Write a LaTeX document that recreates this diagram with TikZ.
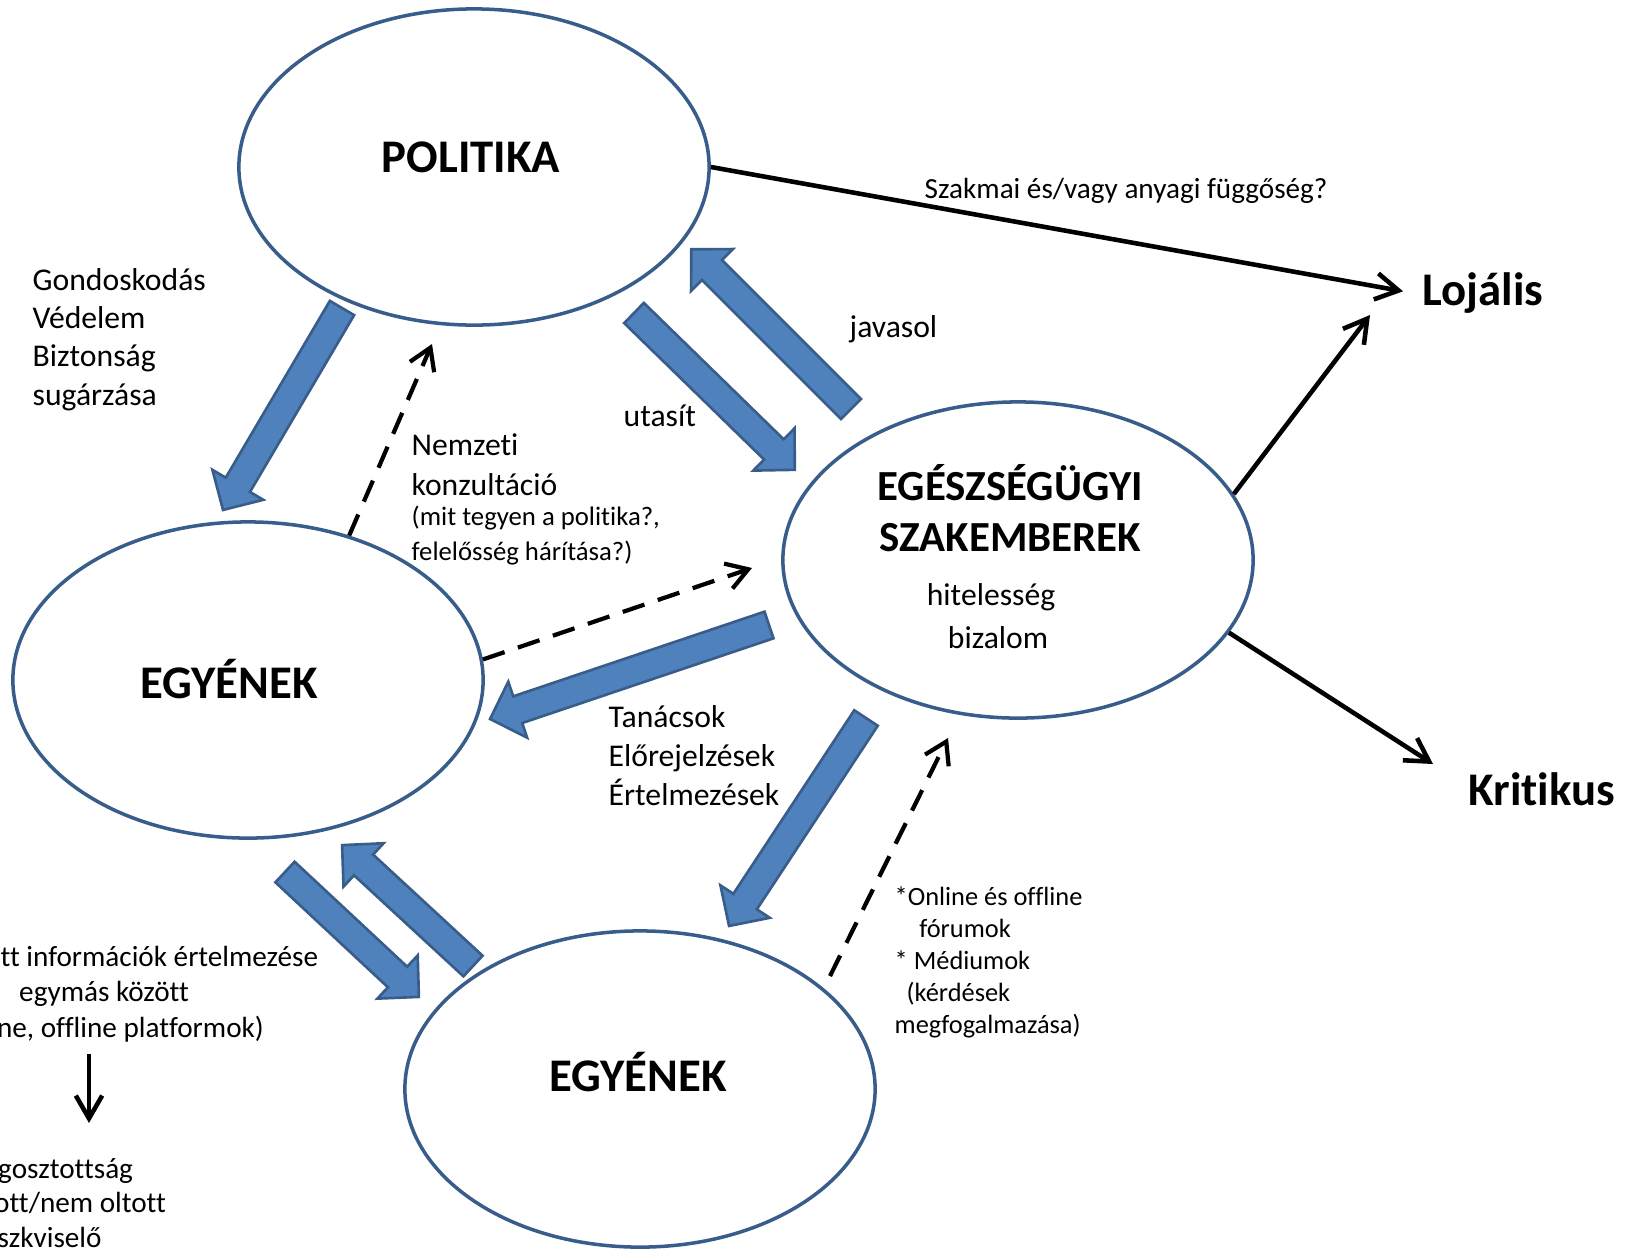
\documentclass[tikz,border=0pt]{standalone}
\usepackage{fontspec}
\setmainfont{Carlito}[Ligatures=NoCommon]
\usetikzlibrary{arrows.meta,shapes.geometric,calc,positioning}

\definecolor{bubbleline}{RGB}{56,93,138}
\definecolor{arrowfill}{RGB}{79,129,189}

\tikzset{
  bubble/.style={ellipse, draw=bubbleline, line width=1pt, fill=white, minimum width=4.7cm, minimum height=3.16cm},
  bigtxt/.style={font=\fontsize{13.3}{14.5}\selectfont\bfseries, align=center},
  txt/.style={font=\fontsize{9}{10.9}\selectfont, align=left, inner sep=0pt},
  smalltxt/.style={font=\fontsize{7.5}{9.1}\selectfont, align=left, inner sep=0pt},
  midtxt/.style={font=\fontsize{8.3}{10}\selectfont, inner sep=0pt},
  fatarrow/.style={fill=arrowfill, draw=bubbleline, line width=0.75pt, line join=miter},
  dasharrow/.style={line width=1.2pt, dash pattern=on 6.5pt off 4pt, -{Straight Barb[length=6pt,width=7.5pt]}},
  blackarrow/.style={line width=1.3pt, -{Straight Barb[length=6.5pt,width=7.5pt]}},
}

% block arrow from #1 (tail) to #2 (tip)
\newcommand{\fatarrow}[2]{%
  \filldraw[fatarrow] let \p1=#1, \p2=#2, \n1={atan2(\y2-\y1,\x2-\x1)}, \n2={veclen(\x2-\x1,\y2-\y1)} in
    [shift={(\p1)}, rotate=\n1]
    (0pt,-4pt) -- ({\n2-8.3pt},-4pt) -- ({\n2-8.3pt},-8.4pt) -- (\n2,0pt)
    -- ({\n2-8.3pt},8.4pt) -- ({\n2-8.3pt},4pt) -- (0pt,4pt) -- cycle;}

\begin{document}
\begin{tikzpicture}[x=0.01cm, y=-0.01cm]
\useasboundingbox (0,0) rectangle (1634,1254);

\node[bubble] (pol) at (474,167) {};
\node[bubble] (egy1) at (248,680) {};
\node[bubble] (szak) at (1018,560) {};
\node[bubble] (egy2) at (640,1089) {};

% multi-line nodes: base = last line
\node[bigtxt, anchor=base] (poltxt) at (471,172) {POLITIKA};
\node[bigtxt, anchor=base] (egy1txt) at (229,698) {EGYÉNEK};
\node[bigtxt, anchor=base] (egy2txt) at (638,1091) {EGYÉNEK};
\node[bigtxt, font=\fontsize{12.2}{14.5}\selectfont\bfseries, anchor=base] (szaktxt) at (1010,551) {EGÉSZSÉGÜGYI\\SZAKEMBEREK};
\node[font=\fontsize{9}{12}\selectfont, align=center, anchor=base] (hit) at (991,648) {hitelesség\\\hspace{4pt}bizalom};

\node[bigtxt, anchor=base west] (loj) at (1410,305) {Lojális};
\node[bigtxt, anchor=base west] (krit) at (1456,805) {Kritikus};

% blue block arrows
\fatarrow{(342,308)}{(223,510)}
\fatarrow{(634,313)}{(795,470)}
\fatarrow{(851,409)}{(691,249)}
\fatarrow{(769,625)}{(490,719)}
\fatarrow{(866,718)}{(729,926)}
\fatarrow{(285,872)}{(419,997)}
\fatarrow{(473,966)}{(342,845)}

% dashed arrows
\coordinate (nk-end) at (432,344);
\coordinate (szak-in) at (752,568);
\coordinate (egy2-out) at (830,976);
\coordinate (szak-low) at (948,738);
\draw[dasharrow] (egy1.55) -- (nk-end);
\draw[dasharrow] (egy1.5) -- (szak-in);
\draw[dasharrow] (egy2-out) -- (szak-low);

% black arrows
\coordinate (loj-low) at (1370,315);
\coordinate (krit-in) at (1433,764);
\draw[blackarrow, shorten >=2pt] (pol.east) -- (loj.west);
\draw[blackarrow] (szak.17) -- (loj-low);
\draw[blackarrow] (szak.-19) -- (krit-in);

\node[midtxt, anchor=base west] (fugg) at (924,198) {Szakmai és/vagy anyagi függőség?};
\node[txt, anchor=base west] (gond) at (32,405) {Gondoskodás\\Védelem\\Biztonság\\sugárzása};
\node[txt, anchor=base west] (jav) at (849,337) {javasol};
\node[txt, anchor=base west] (utas) at (623,426) {utasít};
\node[txt, font=\fontsize{9}{11.1}\selectfont, anchor=base west] (nemz) at (411,495) {Nemzeti\\konzultáció};
\node[smalltxt, font=\fontsize{7.6}{9.7}\selectfont, anchor=base west] (nemzq) at (411,560) {(mit tegyen a politika?,\\felelősség hárítása?)};
\node[txt, font=\fontsize{9}{11}\selectfont, anchor=base west] (tan) at (608,805) {Tanácsok\\Előrejelzések\\Értelmezések};
\node[smalltxt, anchor=base west] (forum) at (894,1033) {*Online és offline\\\hspace{7pt}fórumok\\* Médiumok\\\hspace{3.4pt}(kérdések\\megfogalmazása)};

\node[midtxt, align=center, anchor=base] (infos) at (104,1037) {Megkapott információk értelmezése\\egymás között\\(online, offline platformok)};
\node[midtxt, font=\fontsize{8.3}{9.8}\selectfont, align=left, anchor=base west] (megoszt) at (-42,1247) {Megosztottság\\Oltott/nem oltott\\Maszkviselő};
\coordinate (dn-top) at (89,1054);
\coordinate (dn-bot) at (89,1123);
\draw[blackarrow] (dn-top) -- (dn-bot);

\end{tikzpicture}
\end{document}
